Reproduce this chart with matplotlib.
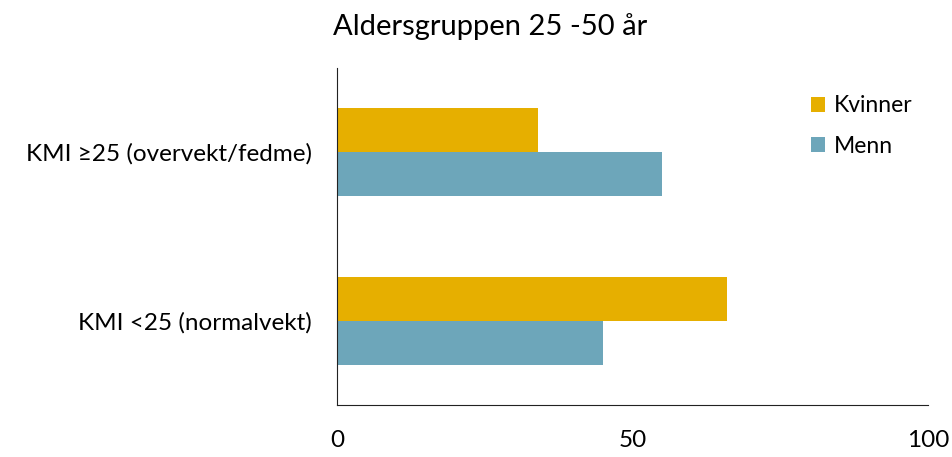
import matplotlib
matplotlib.use('Agg')
import matplotlib.pyplot as plt
import numpy as np

plt.rcParams['font.family'] = ['Lato', 'DejaVu Sans']

categories = ['KMI <25 (normalvekt)', 'KMI \u226525 (overvekt/fedme)']
kvinner = [66, 34]
menn = [45, 55]
series_names = ['Kvinner', 'Menn']
xticks = [0, 50, 100]

fig = plt.figure(figsize=(9.52, 4.57), dpi=100)
ax = fig.add_axes([337 / 952, 1 - 405 / 457, (928 - 337) / 952, (405 - 68) / 457])

y = np.arange(len(categories))
h = 0.26
ax.barh(y + h / 2, kvinner, height=h, color='#E6AF00', label=series_names[0])
ax.barh(y - h / 2, menn, height=h, color='#6DA6BA', label=series_names[1])

ax.set_xlim(0, 100)
ax.set_ylim(-0.5, 1.5)
ax.set_yticks(y)
ax.set_yticklabels(categories, fontsize=17.5)
ax.set_xticks(xticks)
ax.set_xticklabels([str(t) for t in xticks], fontsize=17.5)
ax.tick_params(length=0)
ax.tick_params(axis='x', pad=18)
ax.tick_params(axis='y', pad=18)

for s in ['top', 'right']:
    ax.spines[s].set_visible(False)
ax.spines['left'].set_color('#222222')
ax.spines['bottom'].set_color('#222222')

fig.text(490 / 952, 1 - 27 / 457, 'Aldersgruppen 25 -50 år', ha='center', va='center', fontsize=21)

ax.legend(loc='upper left', bbox_to_anchor=(0.767, 0.98), frameon=False, fontsize=16.5,
          handlelength=0.6, handleheight=0.6, handletextpad=0.4, labelspacing=0.85)

fig.savefig('out.png', dpi=100)
